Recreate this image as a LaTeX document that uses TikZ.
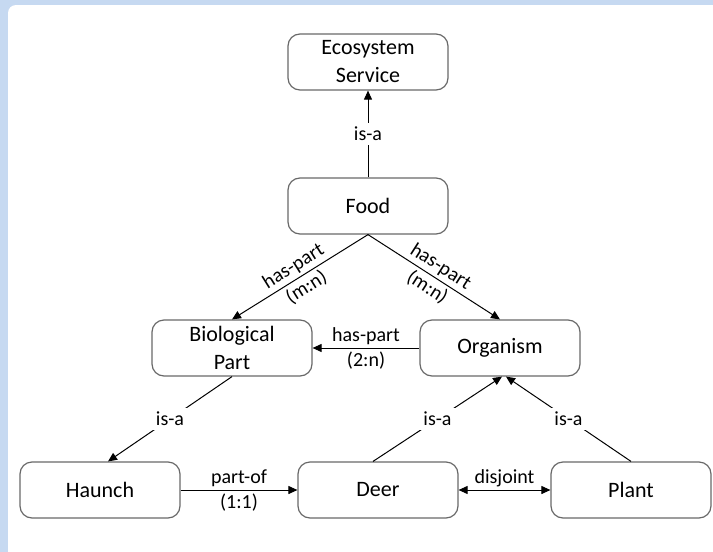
\documentclass[tikz,border=0pt]{standalone}
\usepackage{fontspec}
\setmainfont{Carlito}
\usetikzlibrary{arrows.meta}
\definecolor{framebg}{RGB}{198,217,241}
\definecolor{boxline}{RGB}{105,105,105}
\begin{document}
\begin{tikzpicture}[x=0.5pt,y=-0.5pt,
    concept/.style={draw=boxline,line width=0.6pt,rounded corners=6pt,minimum width=80pt,minimum height=28pt,inner sep=1pt,align=center,font=\fontsize{11}{14}\selectfont},
    rel/.style={draw,line width=0.5pt,-{Triangle[length=4.5pt,width=4pt]}},
    lbl/.style={font=\fontsize{10}{12}\selectfont,align=center,inner sep=1.5pt},
    cut/.style={lbl,fill=white,inner sep=2pt}]
    % frame
    \clip (0,0) rectangle (713,552);
    \fill[framebg] (0,0) rectangle (713,552);
    \fill[white,rounded corners=4pt] (8,5) rectangle (740,580);
    % concepts
    \node[concept] (eco) at (368,62) {Ecosystem\\Service};
    \node[concept] (food) at (368,206) {Food};
    \node[concept] (bio) at (232,348) {Biological\\Part};
    \node[concept] (org) at (500,348) {Organism};
    \node[concept] (haunch) at (100,490) {Haunch};
    \node[concept] (deer) at (378,490) {Deer};
    \node[concept] (plant) at (631,490) {Plant};
    % relations
    \draw[rel] (food) -- node[cut] {is-a} (eco);
    \draw[rel] (food.south) -- node[lbl,sloped,above] {has-part} node[lbl,sloped,below] {(m:n)} (bio.north);
    \draw[rel] (food.south) -- node[lbl,sloped,above] {has-part} node[lbl,sloped,below] {(m:n)} (org.north);
    \draw[rel] (org) -- node[lbl,above] {has-part} node[lbl,below] {(2:n)} (bio);
    \draw[rel] (bio.south) -- node[cut] {is-a} ([xshift=4pt]haunch.north);
    \draw[rel] ([xshift=-2.5pt]deer.north) -- node[cut] {is-a} ([xshift=1pt]org.south);
    \draw[rel] (plant.north) -- node[cut] {is-a} ([xshift=3pt]org.south);
    \draw[rel] (haunch) -- node[lbl,above] {part-of} node[lbl,below] {(1:1)} (deer);
    \draw[rel,{Triangle[length=4.5pt,width=4pt]}-{Triangle[length=4.5pt,width=4pt]}] (deer) -- node[lbl,above] {disjoint} (plant);
\end{tikzpicture}
\end{document}
